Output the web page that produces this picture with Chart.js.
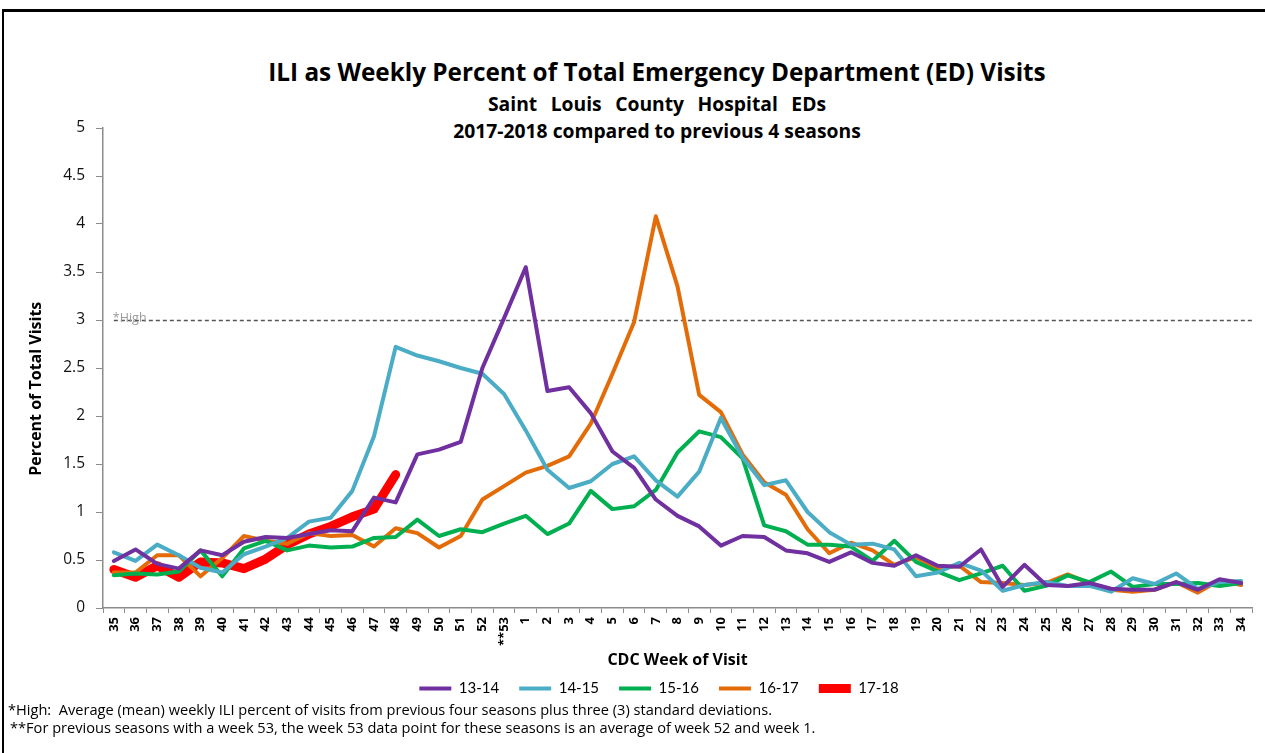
<!DOCTYPE html>
<html>
<head>
<meta charset="utf-8">
<script src="https://cdn.jsdelivr.net/npm/chart.js@4.4.1/dist/chart.umd.min.js"></script>
<style>
    body { margin: 0; width: 1265px; height: 753px; overflow: hidden; background: #fff; font-family: 'Open Sans', Lato, sans-serif; }
    .frame { position: absolute; left: 2px; top: 9px; width: 1300px; height: 800px; border-top: 3px solid #000; border-left: 2px solid #000; }
    .ttl { position: absolute; left: 0; width: 1314px; text-align: center; font-weight: bold; color: #000; white-space: pre; }
    #chartBox { position: absolute; left: 0; top: 0; width: 1265px; height: 706px; }
    .note { position: absolute; font-size: 14.6px; color: #000; white-space: pre; }
</style>
</head>
<body>
<div class="frame"></div>
<div class="ttl" style="top:56px;font-size:24.3px;line-height:32px;">ILI as Weekly Percent of Total Emergency Department (ED) Visits</div>
<div class="ttl" style="top:92px;font-size:19.3px;line-height:24px;word-spacing:8.5px;">Saint Louis County Hospital EDs</div>
<div class="ttl" style="top:119px;font-size:19.3px;line-height:24px;">2017-2018 compared to previous 4 seasons</div>
<div id="chartBox"><canvas id="iliChart" width="1265" height="706"></canvas></div>
<div class="note" style="left:8px;top:699px;">*High:  Average (mean) weekly ILI percent of visits from previous four seasons plus three (3) standard deviations.</div>
<div class="note" style="left:10px;top:717px;">**For previous seasons with a week 53, the week 53 data point for these seasons is an average of week 52 and week 1.</div>
<script>
        // CDC weeks, season runs week 35 -> week 34
        const weeks = ['35', '36', '37', '38', '39', '40', '41', '42', '43', '44', '45', '46', '47', '48', '49', '50', '51', '52', '**53',
            '1', '2', '3', '4', '5', '6', '7', '8', '9', '10', '11', '12', '13', '14', '15', '16', '17', '18', '19', '20',
            '21', '22', '23', '24', '25', '26', '27', '28', '29', '30', '31', '32', '33', '34'];

        const season1314 = [0.49, 0.61, 0.46, 0.41, 0.60, 0.55, 0.69, 0.74, 0.73, 0.77, 0.81, 0.80, 1.15, 1.10, 1.60, 1.65, 1.73, 2.50, 3.02,
            3.55, 2.26, 2.30, 2.03, 1.63, 1.46, 1.13, 0.96, 0.85, 0.65, 0.75, 0.74, 0.60, 0.57, 0.48, 0.58, 0.47, 0.44, 0.55, 0.44,
            0.43, 0.61, 0.22, 0.45, 0.24, 0.23, 0.26, 0.20, 0.19, 0.19, 0.27, 0.19, 0.30, 0.26];
        const season1415 = [0.58, 0.49, 0.66, 0.55, 0.42, 0.37, 0.56, 0.64, 0.73, 0.90, 0.94, 1.22, 1.79, 2.72, 2.63, 2.57, 2.50, 2.44, 2.23,
            1.85, 1.44, 1.25, 1.32, 1.50, 1.58, 1.33, 1.16, 1.42, 1.98, 1.57, 1.28, 1.33, 1.00, 0.79, 0.66, 0.67, 0.61, 0.33, 0.37,
            0.47, 0.39, 0.18, 0.24, 0.27, 0.23, 0.23, 0.17, 0.31, 0.25, 0.36, 0.20, 0.27, 0.28];
        const season1516 = [0.34, 0.36, 0.35, 0.38, 0.60, 0.33, 0.62, 0.70, 0.60, 0.65, 0.63, 0.64, 0.73, 0.74, 0.92, 0.75, 0.82, 0.79, 0.88,
            0.96, 0.77, 0.88, 1.22, 1.03, 1.06, 1.23, 1.62, 1.84, 1.78, 1.56, 0.86, 0.80, 0.66, 0.66, 0.64, 0.49, 0.70, 0.48, 0.38,
            0.29, 0.36, 0.44, 0.18, 0.23, 0.34, 0.27, 0.38, 0.22, 0.25, 0.25, 0.26, 0.23, 0.26];
        const season1617 = [0.37, 0.37, 0.55, 0.55, 0.33, 0.52, 0.75, 0.70, 0.67, 0.78, 0.75, 0.76, 0.64, 0.83, 0.78, 0.63, 0.75, 1.13, 1.27,
            1.41, 1.48, 1.58, 1.92, 2.44, 2.98, 4.08, 3.35, 2.22, 2.04, 1.60, 1.31, 1.18, 0.82, 0.57, 0.68, 0.60, 0.45, 0.53, 0.41,
            0.44, 0.27, 0.26, 0.24, 0.26, 0.35, 0.26, 0.19, 0.17, 0.19, 0.27, 0.16, 0.29, 0.24];
        // current season, only through week 48
        const season1718 = [0.40, 0.32, 0.44, 0.32, 0.48, 0.47, 0.41, 0.51, 0.66, 0.77, 0.85, 0.95, 1.03, 1.39];

        const yTicks = [0, 0.5, 1, 1.5, 2, 2.5, 3, 3.5, 4, 4.5, 5];
        const highThreshold = 3;

        // dashed *High threshold line
        const highLinePlugin = {
            id: 'highLine',
            beforeDatasetsDraw(chart) {
                const ctx = chart.ctx;
                const x = chart.scales.x;
                const y = chart.scales.y;
                const yPos = Math.round(y.getPixelForValue(highThreshold)) + 0.5;
                const xStart = x.getPixelForValue(0);
                ctx.save();
                ctx.strokeStyle = '#555';
                ctx.lineWidth = 1.5;
                ctx.setLineDash([4, 3]);
                ctx.beginPath();
                ctx.moveTo(xStart, yPos);
                ctx.lineTo(chart.chartArea.right, yPos);
                ctx.stroke();
                ctx.setLineDash([]);
                ctx.fillStyle = '#9a9a9a';
                ctx.font = '12.5px "Open Sans"';
                ctx.textBaseline = 'bottom';
                ctx.fillText('*High', xStart - 1, yPos + 4);
                ctx.restore();
            }
        };

        // legend sits a bit right of the canvas centre in the original
        const legendShiftPlugin = {
            id: 'legendShift',
            afterLayout(chart) {
                if (chart.legend) {
                    chart.legend.left += 23;
                    chart.legend.right += 23;
                }
            }
        };

        function seasonLine(label, data, color, width) {
            return {
                label: label,
                data: data,
                borderColor: color,
                backgroundColor: color,
                borderWidth: width,
                pointRadius: 0,
                pointHoverRadius: 0,
                tension: 0,
                fill: false,
                borderCapStyle: 'round',
                borderJoinStyle: 'round'
            };
        }

        const iliCtx = document.getElementById('iliChart').getContext('2d');
        const iliChart = new Chart(iliCtx, {
            type: 'line',
            data: {
                labels: weeks,
                datasets: [
                    seasonLine('13-14', season1314, '#7030A0', 4),
                    seasonLine('14-15', season1415, '#4BACC6', 4),
                    seasonLine('15-16', season1516, '#00B050', 4),
                    seasonLine('16-17', season1617, '#E36C09', 4),
                    seasonLine('17-18', season1718, '#FF0000', 9)
                ]
            },
            options: {
                responsive: false,
                animation: false,
                layout: {
                    padding: { top: 128, right: 13, bottom: 0, left: 20 }
                },
                plugins: {
                    title: { display: false },
                    tooltip: { enabled: false },
                    legend: {
                        position: 'bottom',
                        labels: {
                            usePointStyle: true,
                            pointStyle: 'line',
                            pointStyleWidth: 32,
                            color: '#000',
                            padding: 20,
                            font: { family: 'Lato', size: 15 }
                        }
                    }
                },
                scales: {
                    x: {
                        offset: true,
                        grid: {
                            offset: true,
                            drawOnChartArea: false,
                            tickLength: 5,
                            color: '#8c8c8c'
                        },
                        border: { color: '#8c8c8c', width: 1.5 },
                        ticks: {
                            autoSkip: false,
                            minRotation: 90,
                            maxRotation: 90,
                            padding: 4,
                            color: '#000',
                            font: { family: 'Open Sans', size: 13, weight: 'bold' }
                        },
                        title: {
                            display: true,
                            text: 'CDC Week of Visit',
                            color: '#000',
                            padding: { top: 0, bottom: -9 },
                            font: { family: 'Open Sans', size: 16, weight: 'bold' }
                        },
                        afterFit: function(scale) {
                            scale.height = 53;
                        }
                    },
                    y: {
                        min: 0,
                        max: 5,
                        afterBuildTicks: function(scale) {
                            scale.ticks = yTicks.map(v => ({ value: v }));
                        },
                        grid: {
                            drawOnChartArea: false,
                            tickLength: 7,
                            color: '#8c8c8c'
                        },
                        border: { color: '#8c8c8c', width: 1.5 },
                        ticks: {
                            padding: 11,
                            color: '#111',
                            font: { family: 'Open Sans', size: 15.5 },
                            callback: function(value) {
                                return String(value);
                            }
                        },
                        title: {
                            display: true,
                            // trailing spaces nudge the rotated title down a little
                            text: 'Percent of Total Visits          ',
                            color: '#000',
                            padding: { top: 7, bottom: 0 },
                            font: { family: 'Open Sans', size: 16, weight: 'bold' }
                        },
                        afterFit: function(scale) {
                            scale.width = 83;
                        }
                    }
                }
            },
            plugins: [highLinePlugin, legendShiftPlugin]
        });
</script>
</body>
</html>
